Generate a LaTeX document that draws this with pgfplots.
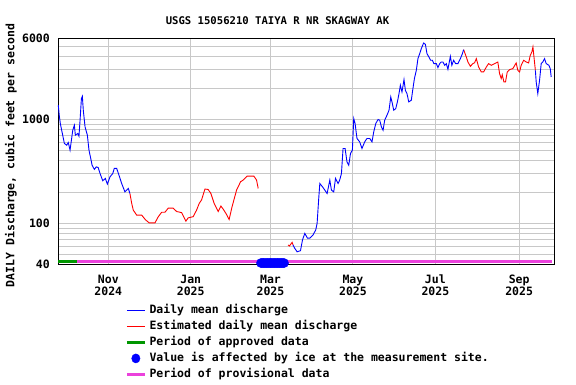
\documentclass[border=0pt]{standalone}
\usepackage{pgfplots}
\pgfplotsset{compat=1.18}
\usepackage{fontspec}
\setmainfont{DejaVu Sans Mono}
\definecolor{gridgray}{RGB}{200,200,200}
\definecolor{appgreen}{RGB}{0,150,0}
\definecolor{provmag}{RGB}{235,65,220}
\begin{document}
\begin{tikzpicture}[x=1pt,y=1pt]
\begin{axis}[
  at={(58.3pt,119.3pt)}, anchor=south west,
  scale only axis, width=496pt, height=226pt,
  ymode=log, ymin=40, ymax=6000,
  xmin=-37, xmax=330,
  clip=false,
  unbounded coords=jump,
  /pgf/number format/assume math mode=true,
  xtick={0,61,120,181,242,304},
  xticklabels={{Nov\\2024},{Jan\\2025},{Mar\\2025},{May\\2025},{Jul\\2025},{Sep\\2025}},
  xticklabel style={align=center, inner sep=0pt, anchor=north, yshift=-10pt, font=\fontsize{11.5}{11.8}\selectfont\bfseries},
  ytick={40,100,1000,6000},
  yticklabels={40,100,1000,6000},
  minor ytick={50,60,70,80,90,200,300,400,500,600,700,800,900,2000,3000,4000,5000},
  yticklabel style={anchor=east, inner sep=0pt, xshift=-8.3pt, font=\fontsize{11.5}{12}\selectfont\bfseries},
  major tick length=0pt, minor tick length=0pt,
  xmajorgrids, ymajorgrids, yminorgrids,
  major grid style={gridgray, line width=1pt},
  minor grid style={gridgray, line width=1pt},
  axis line style={black, line width=1.1pt},
  legend image code/.code={\draw[#1] (0pt,0pt) -- (18pt,0pt); \path (21pt,0pt);},
  legend style={at={(0.1345,-0.178)}, anchor=north west, draw=none, fill=none,
    inner sep=0pt, font=\fontsize{11.5}{12}\selectfont\bfseries,
    nodes={inner sep=0pt, text height=8pt, text depth=2pt},
    row sep=6.1pt},
  legend cell align=left,
]
% provisional / approved bars
\addplot[forget plot, provmag, line width=3pt] coordinates {(-23,42.6) (328,42.6)};
\addplot[forget plot, appgreen, line width=3pt] coordinates {(-37,42.6) (-23,42.6)};
% ice
\addplot[forget plot, only marks, mark=*, mark size=4.6pt, blue, mark options={draw=blue, fill=blue}] coordinates {
(113,41.5) (114,41.5) (115,41.5) (116,41.5) (117,41.5) (118,41.5) (119,41.5) (120,41.5) (121,41.5)
(122,41.5) (123,41.5) (124,41.5) (125,41.5) (126,41.5) (127,41.5) (128,41.5) (129,41.5) (130,41.5)};
% estimated (red)
\addplot[forget plot, red, line width=0.9pt] coordinates {
(16,194) (17.3,156) (18.5,134) (21,120) (24.7,120) (27.6,108) (30.3,101) (34.5,101) (37,116) (39.5,128) (41.9,128) (44.3,140) (48,140) (50.6,130) (54.2,127) (57.4,105) (59.1,113) (62.8,116) (65.3,134) (67.3,156) (69,168) (71.5,214) (73.9,212) (75.9,194) (78.3,156) (81.3,130) (83.3,147) (85,137) (87,125) (89.4,109) (91.6,145) (94.9,209) (97.9,252) (99.8,261) (102.7,285) (107.7,285) (109.7,261) (110.9,217)
(111,nan)
(133,61.9) (134,60.6) (136,65.6) (136.7,62)
(137,nan)
(262.9,4707) (264.9,3998) (266.1,3580) (267.9,3255) (269.8,3453) (271,3516) (272.3,3856) (274,3203) (276,2871) (277.7,2871) (279.7,3203) (281.4,3453) (283.4,3327) (285.8,3453) (288.2,3580) (289.5,2771) (290.7,2478) (291.5,2700) (292.7,2302) (293.9,2302) (295.2,2871) (296.9,3022) (299.3,3091) (301.8,3504) (303,2974) (304.3,2871) (305.5,3327) (307.3,3717) (309.3,3580) (311,3504) (312.2,4148) (313.4,4472) (314.2,4998) (314.7,4306) (316,2974)
};
% daily mean (blue)
\addplot[forget plot, blue, line width=0.9pt] coordinates {
(-37,1372) (-36.3,1100) (-35.5,915) (-34,733) (-32.5,588) (-30.8,566) (-29.6,600) (-28.3,507) (-26.3,789) (-25.1,882) (-24.4,707) (-22.6,733) (-21.7,691) (-20.9,985) (-19.9,1592) (-19.2,1675) (-18.5,1229) (-17.2,849) (-15.5,707) (-14.3,507) (-13,422) (-12,363) (-10.3,331) (-8.9,350) (-7.5,345) (-6.1,302) (-4.1,257) (-2.2,271) (-0.7,239) (1.3,281) (3.3,302) (4.4,338) (6.2,338) (7.9,291) (9.9,242) (12.3,201) (14.8,217) (16,194)
(20,nan)
(136.7,62) (138,57.4) (139.7,53.3) (142.2,54.6) (143.7,69.4) (145.4,80) (147.4,72) (149.1,72) (151.5,77.4) (153.5,86.6) (154.5,100) (155.7,174) (156.5,242) (158.5,225) (160.2,209) (161.9,194) (163.9,261) (165.1,209) (166.8,201) (168.1,271) (170,242) (171.2,261) (172.5,302) (173.7,526) (175.2,526) (176.6,391) (177.9,363) (179.2,471) (180.6,507) (181.6,1022) (182.6,915) (184,657) (186,609) (187.7,526) (189.7,609) (191.4,657) (193.4,657) (195.1,609) (196.4,760) (197.9,915) (199.6,1000) (200.8,985) (202.1,849) (203.3,789) (204.5,985) (206.2,1100) (207.7,1229) (209,1650) (209.9,1477) (211.2,1229) (212.7,1275) (213.9,1477) (215.1,1777) (216.1,2138) (217.3,1843) (218.8,2424) (219.8,1913) (221,1777) (222.3,1477) (224.2,1533) (225.4,1986) (226.5,2478) (227.9,2974) (229.1,3856) (230.4,4306) (231.6,4817) (233.3,5456) (234.6,5301) (235.8,4306) (237.2,3998) (238.5,3717) (239.8,3717) (240.9,3453) (242.7,3453) (243.9,3161) (245.2,3453) (246.4,3580) (247.6,3580) (248.9,3327) (250.1,3453) (251.3,3042) (253.1,4058) (254.2,3327) (255.5,3717) (257,3453) (258.7,3453) (260.5,3856) (262,4306) (262.9,4707)
(263,nan)
(316,2974) (316.6,2302) (317.8,1777) (319.1,2390) (320.3,3453) (321.5,3580) (322.8,3856) (324,3453) (326,3327) (327,3091) (327.7,2569)
};
% legend
\addlegendimage{blue, line width=0.9pt}
\addlegendentry{Daily mean discharge}
\addlegendimage{red, line width=0.9pt}
\addlegendentry{Estimated daily mean discharge}
\addlegendimage{appgreen, line width=3.3pt}
\addlegendentry{Period of approved data}
\addlegendimage{legend image code/.code={\fill[blue] (9pt,0pt) ellipse (4.2pt and 4.6pt); \path (21pt,0pt);}}
\addlegendentry{Value is affected by ice at the measurement site.}
\addlegendimage{provmag, line width=3.3pt}
\addlegendentry{Period of provisional data}
\end{axis}
\node[font=\fontsize{10.6}{12}\selectfont\bfseries] at (277.5,363.7) {USGS 15056210 TAIYA R NR SKAGWAY AK};
\node[rotate=90, font=\fontsize{11.5}{12}\selectfont\bfseries] at (11,228.5) {DAILY Discharge, cubic feet per second};
\pgfresetboundingbox
\path[use as bounding box] (0,0) rectangle (576,384);
\end{tikzpicture}
\end{document}
